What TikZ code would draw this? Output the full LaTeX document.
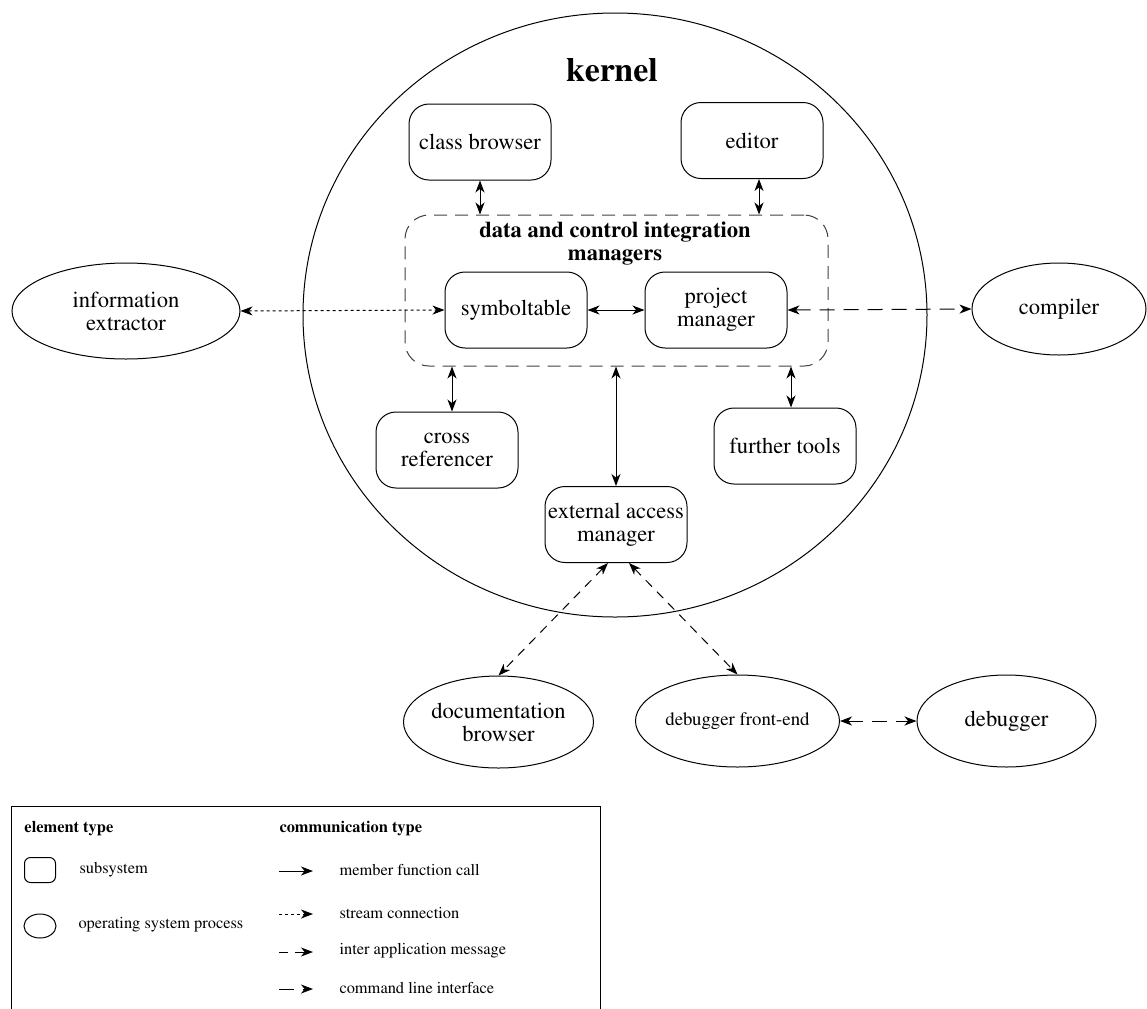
\documentclass[tikz,border=0pt]{standalone}
\usepackage[T1]{fontenc}
\usepackage{times}
\usetikzlibrary{arrows.meta,shapes.geometric,positioning}

\begin{document}
\begin{tikzpicture}[x=0.5pt,y=-0.5pt,line width=0.5pt,
  >={Stealth[length=6pt,width=4.5pt,inset=1.8pt]},
  every node/.style={font=\fontsize{11.3}{11.5}\selectfont,align=center,inner sep=0pt},
  subsys/.style={draw,rounded corners=10pt,minimum width=71pt,minimum height=38pt},
  osproc/.style={draw,ellipse,minimum width=89.5pt,minimum height=46pt},
  stream/.style={dash pattern=on 1.5pt off 1.5pt},
  message/.style={dash pattern=on 4.5pt off 3.5pt},
  cmdline/.style={dash pattern=on 7.5pt off 4.5pt},
  legtext/.style={font=\fontsize{8.2}{10}\selectfont,anchor=west}]
\useasboundingbox (0,0) rectangle (1147,1008);

\draw (615,315) ellipse [x radius=156pt,y radius=151pt];
\node[font=\fontsize{17}{20}\selectfont\bfseries] (kt) at (612,70) {kernel};
\node[subsys] (cb) at (480,142) {class browser};
\node[subsys] (ed) at (752,140.5) {editor};
\node[draw=black!75,rounded corners=12pt,dash pattern=on 6.5pt off 4pt,minimum width=211.5pt,minimum height=75.5pt] (dcim) at (616.5,290.5) {};
\node[font=\fontsize{11.3}{11.5}\selectfont\bfseries] (dct) at (615,243.5) {data and control integration\\managers};
\node[subsys] (st) at (516,310) {symboltable};
\node[subsys] (pm) at (716,310) {project\\manager};
\node[subsys] (cr) at (447,450) {cross\\referencer};
\node[subsys] (ft) at (785,446) {further tools};
\node[subsys] (eam) at (616,524.5) {external access\\manager};
\node[osproc,minimum width=114pt,minimum height=48pt] (ie) at (126,311) {information\\extractor};
\node[osproc,minimum width=87pt] (cc) at (1059,309) {compiler};
\node[osproc] (db) at (498.5,722) {documentation\\browser};
\node[osproc,font=\fontsize{9.4}{11}\selectfont] (dfe) at (737.5,721) {debugger front-end};
\node[osproc] (dbg) at (1006.5,721) {debugger};

\draw[<->] (cb.south) -- (cb.south |- dcim.north);
\draw[<->] ([xshift=3.5pt]ed.south) -- ([xshift=3.5pt]ed.south |- dcim.north);
\draw[stream,<->] (ie.east) -- (st.west);
\draw[<->] (st.east) -- (pm.west);
\draw[cmdline,<->] (pm.east) -- (cc.west);
\draw[<->] ([xshift=2.5pt]cr.north |- dcim.south) -- ([xshift=2.5pt]cr.north);
\draw[<->] (eam.north |- dcim.south) -- (eam.north);
\draw[<->] ([xshift=3pt]ft.north |- dcim.south) -- ([xshift=3pt]ft.north);
\draw[message,<->] ([xshift=-4pt]eam.south) -- (db.north);
\draw[message,<->] ([xshift=6.5pt]eam.south) -- (dfe.north);
\draw[cmdline,<->] (dfe.east) -- (dbg.west);

\draw (11,1009) -- (11,806) -- (600,806) -- (600,1009);
\node[legtext,font=\fontsize{8.2}{10}\selectfont\bfseries] (let) at (24,829) {element type};
\node[draw,rounded corners=3pt,minimum width=15.5pt,minimum height=12.5pt] (lsb) at (40,870) {};
\node[legtext] (lsbt) at (79,870) {subsystem};
\node[draw,ellipse,minimum width=16pt,minimum height=12pt] (lop) at (40,926) {};
\node[legtext] (lopt) at (78,925) {operating system process};
\node[legtext,font=\fontsize{8.2}{10}\selectfont\bfseries] (lct) at (279,829) {communication type};
\node[legtext] (lmf) at (339,870) {member function call};
\node[legtext] (lsc) at (339,913) {stream connection};
\node[legtext] (lia) at (339,951) {inter application message};
\node[legtext] (lcl) at (339,988) {command line interface};
\draw[->] ([xshift=-30pt,yshift=-0.5pt]lmf.west) -- ([xshift=-13pt,yshift=-0.5pt]lmf.west);
\draw[stream,->] ([xshift=-30pt,yshift=-0.5pt]lsc.west) -- ([xshift=-13pt,yshift=-0.5pt]lsc.west);
\draw[message,->] ([xshift=-30pt,yshift=-0.5pt]lia.west) -- ([xshift=-13pt,yshift=-0.5pt]lia.west);
\draw[cmdline,->] ([xshift=-30pt,yshift=-0.5pt]lcl.west) -- ([xshift=-13pt,yshift=-0.5pt]lcl.west);

\end{tikzpicture}
\end{document}
